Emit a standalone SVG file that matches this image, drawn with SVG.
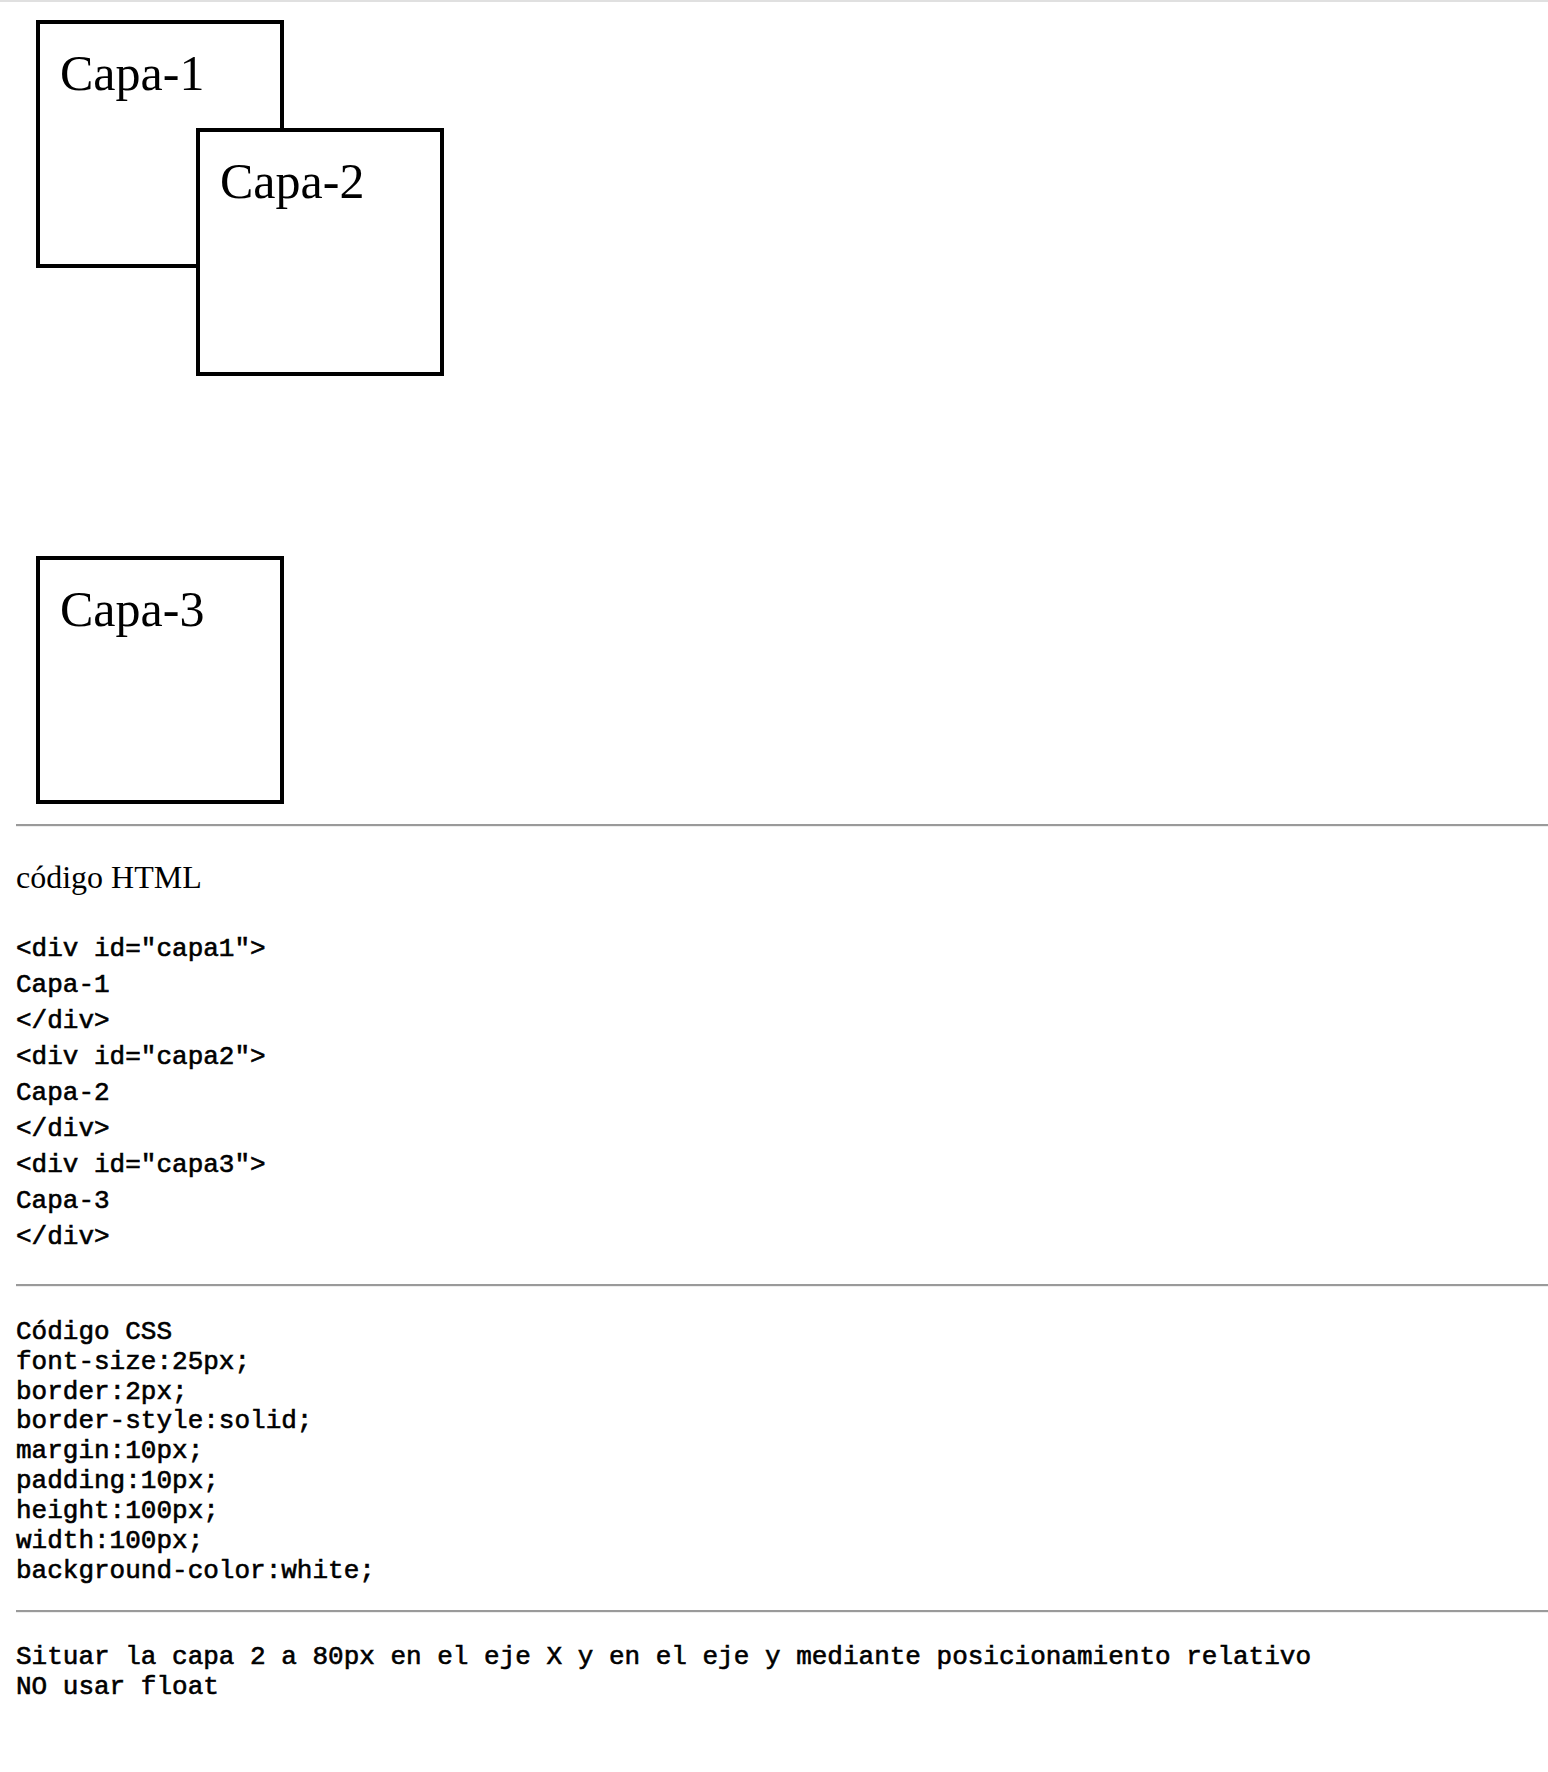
<svg xmlns="http://www.w3.org/2000/svg" width="1548" height="1772" viewBox="0 0 1548 1772">
<style>
.box{fill:#fff;stroke:#000;stroke-width:4}
.lbl{font-family:"Liberation Serif","Times New Roman",serif;font-size:50px;fill:#000}
.serif{font-family:"Liberation Serif","Times New Roman",serif;font-size:32px;fill:#000}
.mono{font-family:"Liberation Mono","Courier New",monospace;font-size:26px;fill:#000;stroke:#000;stroke-width:0.6}
.hr{fill:#9a9a9a}
.hrl{fill:#eeeeee}
</style>
<rect x="0" y="0" width="1548" height="1772" fill="#fff"/>
<rect x="0" y="0" width="1548" height="2" fill="#e0e0e0"/>
<g id="capa1">
<rect class="box" x="38" y="22" width="244" height="244"/>
<text class="lbl" x="60" y="90">Capa-1</text>
</g>
<g id="capa2">
<rect class="box" x="198" y="130" width="244" height="244"/>
<text class="lbl" x="220" y="198">Capa-2</text>
</g>
<g id="capa3">
<rect class="box" x="38" y="558" width="244" height="244"/>
<text class="lbl" x="60" y="626">Capa-3</text>
</g>
<g id="connectors"/>
<g id="rules">
<rect class="hr" x="16" y="824" width="1532" height="2"/><rect class="hrl" x="16" y="826" width="1532" height="1"/>
<rect class="hr" x="16" y="1284" width="1532" height="2"/><rect class="hrl" x="16" y="1286" width="1532" height="1"/>
<rect class="hr" x="16" y="1610" width="1532" height="2"/><rect class="hrl" x="16" y="1612" width="1532" height="1"/>
</g>
<g id="html-code">
<text class="serif" x="16" y="888">código HTML</text>
<text class="mono" x="16" y="956">&lt;div id="capa1"&gt;</text>
<text class="mono" x="16" y="992">Capa-1</text>
<text class="mono" x="16" y="1028">&lt;/div&gt;</text>
<text class="mono" x="16" y="1064">&lt;div id="capa2"&gt;</text>
<text class="mono" x="16" y="1100">Capa-2</text>
<text class="mono" x="16" y="1136">&lt;/div&gt;</text>
<text class="mono" x="16" y="1172">&lt;div id="capa3"&gt;</text>
<text class="mono" x="16" y="1208">Capa-3</text>
<text class="mono" x="16" y="1244">&lt;/div&gt;</text>
</g>
<g id="css-code">
<text class="mono" x="16" y="1339">Código CSS</text>
<text class="mono" x="16" y="1369">font-size:25px;</text>
<text class="mono" x="16" y="1399">border:2px;</text>
<text class="mono" x="16" y="1428">border-style:solid;</text>
<text class="mono" x="16" y="1458">margin:10px;</text>
<text class="mono" x="16" y="1488">padding:10px;</text>
<text class="mono" x="16" y="1518">height:100px;</text>
<text class="mono" x="16" y="1548">width:100px;</text>
<text class="mono" x="16" y="1578">background-color:white;</text>
</g>
<g id="task">
<text class="mono" x="16" y="1664">Situar la capa 2 a 80px en el eje X y en el eje y mediante posicionamiento relativo</text>
<text class="mono" x="16" y="1694">NO usar float</text>
</g>
</svg>
